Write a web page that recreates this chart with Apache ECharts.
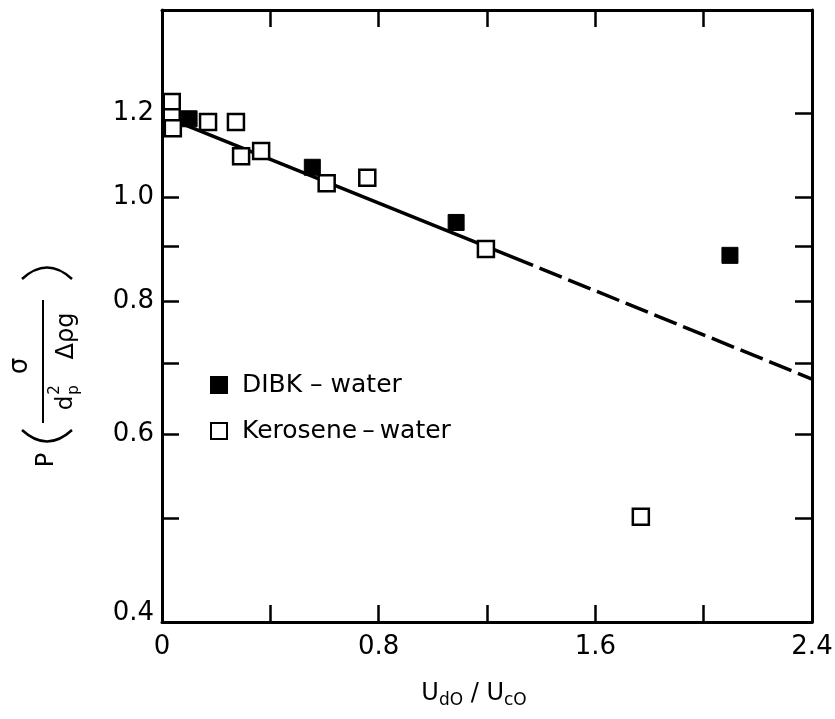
<!DOCTYPE html>
<html>
<head>
<meta charset="utf-8">
<script src="https://cdn.jsdelivr.net/npm/echarts@6/dist/echarts.min.js"></script>
<style>
html,body{margin:0;padding:0;background:#fff;}
#chart{width:835px;height:719px;}
</style>
</head>
<body>
<div id="chart"></div>
<script>
// ---- data ----
const dibkX = [0.100, 0.555, 1.086, 2.097];
const dibkY = [1.186, 1.068, 0.948, 0.883];
const keroX = [0.036, 0.036, 0.040, 0.170, 0.273, 0.292, 0.366, 0.608, 0.758, 1.196, 1.768];
const keroY = [1.230, 1.190, 1.162, 1.178, 1.178, 1.094, 1.106, 1.032, 1.044, 0.895, 0.502];
const fitSolidX = [0, 1.37];
const fitSolidY = [1.194, 0.864];
const fitDashX = [1.37, 2.4];
const fitDashY = [0.864, 0.676];
const xLabelValues = [0, 0.8, 1.6, 2.4];
const yTickValues = [0.4, 0.5, 0.6, 0.7, 0.8, 0.9, 1.0, 1.2];
const yLabelValues = [0.4, 0.6, 0.8, 1.0, 1.2];
const yMin = 0.4, yMax = 1.5;
const xMin = 0, xMax = 2.4, xStep = 0.4;

// the y axis is logarithmic: plot log10 of the values on a value axis
const L = v => Math.log10(v);
const pairs = (xs, ys) => xs.map((x, i) => [x, L(ys[i])]);

const FONT = 'DejaVu Sans';
const chart = echarts.init(document.getElementById('chart'));

const tickStyle = {show: true, inside: true, length: 17, lineStyle: {color: '#000', width: 2.5}};
const lineStyle = {show: true, onZero: false, lineStyle: {color: '#000', width: 3}};

const yAxisBase = {
  type: 'value',
  min: L(yMin), max: L(yMax),
  axisLine: lineStyle,
  splitLine: {show: false},
  axisTick: Object.assign({}, tickStyle, {customValues: yTickValues.map(L)})
};

const txt = (x, y, text, size) => ({
  type: 'text', x: x, y: y,
  style: {text: text, font: size + 'px "DejaVu Sans"', fill: '#000', align: 'center', verticalAlign: 'middle'}
});

chart.setOption({
  animation: false,
  backgroundColor: '#fff',
  grid: {left: 162, right: 23, top: 10, bottom: 97, outerBoundsMode: 'none'},
  xAxis: [{
    type: 'value', position: 'bottom', min: xMin, max: xMax, interval: xStep,
    axisLine: lineStyle, splitLine: {show: false}, axisTick: tickStyle,
    axisLabel: {
      customValues: xLabelValues, color: '#000', fontFamily: FONT, fontSize: 26, margin: 12,
      formatter: v => (Math.abs(v) < 1e-9 ? '0' : v.toFixed(1))
    },
    name: '{u|U}{s|dO}{u| / U}{s|cO}',
    nameLocation: 'middle', nameGap: 56,
    nameTextStyle: {
      color: '#000', fontFamily: FONT,
      padding: [0, 26, 0, 0],
      rich: {
        u: {fontSize: 24, fontFamily: FONT, color: '#000'},
        s: {fontSize: 17, fontFamily: FONT, color: '#000', padding: [14, 0, 0, 0]}
      }
    }
  }, {
    type: 'value', position: 'top', min: xMin, max: xMax, interval: xStep,
    axisLine: lineStyle, splitLine: {show: false}, axisTick: tickStyle,
    axisLabel: {show: false}
  }],
  yAxis: [Object.assign({}, yAxisBase, {
    position: 'left',
    axisLabel: {
      customValues: yLabelValues.map(L), color: '#000', fontFamily: FONT, fontSize: 26, margin: 8,
      formatter: v => {
        const s = Math.pow(10, v).toFixed(1);
        return s === '0.4' ? '{b|' + s + '}' : s;
      },
      rich: {b: {fontSize: 26, fontFamily: FONT, color: '#000', padding: [0, 0, 18, 0]}}
    }
  }), Object.assign({}, yAxisBase, {
    position: 'right',
    axisLabel: {show: false}
  })],
  legend: {
    data: ['DIBK – water', 'Kerosene\u2009–\u2009water'],
    orient: 'vertical', left: 205, top: 365,
    itemWidth: 16, itemHeight: 16, itemGap: 16, icon: 'rect',
    textStyle: {color: '#000', fontFamily: FONT, fontSize: 25, lineHeight: 30, padding: [0, 0, 0, 10]},
    selectedMode: false
  },
  series: [{
    type: 'line', data: pairs(fitSolidX, fitSolidY), showSymbol: false, symbol: 'none',
    lineStyle: {color: '#000', width: 3.5}, z: 2, silent: true
  }, {
    type: 'line', data: pairs(fitDashX, fitDashY), showSymbol: false, symbol: 'none',
    lineStyle: {color: '#000', width: 3.5, type: [24, 7], dashOffset: 24}, z: 2, silent: true
  }, {
    name: 'Kerosene\u2009–\u2009water', type: 'scatter', data: pairs(keroX, keroY),
    symbol: 'rect', symbolSize: 16,
    itemStyle: {color: '#fff', borderColor: '#000', borderWidth: 2.5, opacity: 1}, z: 3
  }, {
    name: 'DIBK – water', type: 'scatter', data: pairs(dibkX, dibkY),
    symbol: 'rect', symbolSize: 16,
    itemStyle: {color: '#000', borderColor: '#000', borderWidth: 1, opacity: 1}, z: 4
  }],
  graphic: [
    // big brackets of the y-axis title (drawn as shallow arcs)
    {type: 'bezierCurve', shape: {x1: 22, y1: 430, x2: 72, y2: 430, cpx1: 47, cpy1: 453},
     style: {stroke: '#000', lineWidth: 2.5, fill: null}},
    {type: 'bezierCurve', shape: {x1: 22, y1: 279, x2: 72, y2: 279, cpx1: 47, cpy1: 256},
     style: {stroke: '#000', lineWidth: 2.5, fill: null}},
    {
      type: 'group', x: 47, y: 366, rotation: Math.PI / 2,
      children: [
        txt(-94, 0, 'P', 24),
        txt(0, -27, 'σ', 26),
        {type: 'line', shape: {x1: -57, y1: -4, x2: 66, y2: -4}, style: {stroke: '#000', lineWidth: 2}},
        txt(-37, 19, 'd', 23),
        txt(-24, 27, 'p', 15),
        txt(-24, 8, '2', 15),
        txt(30, 20, 'Δρg', 24)
      ]
    }
  ]
});
</script>
</body>
</html>
